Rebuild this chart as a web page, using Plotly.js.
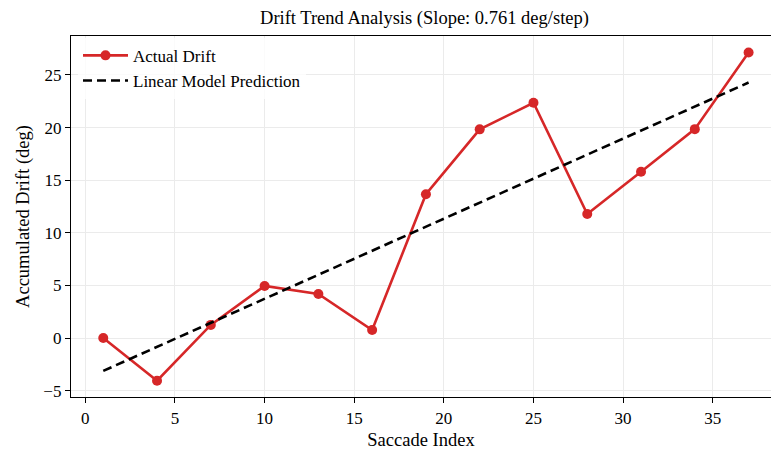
<!DOCTYPE html>
<html>
<head>
<meta charset="utf-8">
<script src="https://cdn.plot.ly/plotly-3.0.1.min.js"></script>
<style>
  html, body { margin: 0; padding: 0; background: #fff; overflow: hidden; }
  #chart { width: 771px; height: 450px; }
</style>
</head>
<body>
<div id="chart"></div>
<script>
// Saccade sample indices and the accumulated drift measured at each
const saccadeIndex = [1, 4, 7, 10, 13, 16, 19, 22, 25, 28, 31, 34, 37];
const accumulatedDrift = [0.0, -4.05, 1.25, 4.95, 4.19, 0.77, 13.66, 19.83, 22.36, 11.79, 15.8, 19.85, 27.14];

// Fitted drift slope (deg per step)
const slope = 0.761;

// Linear model: intercept chosen so the line passes through the data centroid
const meanX = saccadeIndex.reduce((a, b) => a + b, 0) / saccadeIndex.length;
const meanY = accumulatedDrift.reduce((a, b) => a + b, 0) / accumulatedDrift.length;
const intercept = meanY - slope * meanX;
const predicted = saccadeIndex.map(x => intercept + slope * x);

const serif = 'Liberation Serif, Times New Roman, serif';

const traces = [
  {
    x: saccadeIndex,
    y: accumulatedDrift,
    name: 'Actual Drift',
    type: 'scatter',
    mode: 'lines+markers',
    line: { color: '#d62728', width: 2.6 },
    marker: { color: '#d62728', size: 10 }
  },
  {
    x: saccadeIndex,
    y: predicted,
    name: 'Linear Model Prediction',
    type: 'scatter',
    mode: 'lines',
    line: { color: '#000000', width: 2.6, dash: '9px,5px' }
  }
];

const layout = {
  width: 771,
  height: 450,
  margin: { l: 70.5, r: 0, t: 36, b: 53 },
  paper_bgcolor: '#ffffff',
  plot_bgcolor: '#ffffff',
  font: { family: serif, size: 17, color: '#000' },
  title: {
    text: 'Drift Trend Analysis (Slope: 0.761 deg/step)',
    font: { family: serif, size: 18.5, color: '#000' },
    xref: 'paper', x: 0.505, xanchor: 'center',
    yref: 'container', y: 0.96, yanchor: 'middle'
  },
  xaxis: {
    range: [-0.8, 38.25],
    tick0: 0, dtick: 5,
    ticks: 'outside', ticklen: 5, tickwidth: 1, tickcolor: '#000',
    showline: true, linecolor: '#000', linewidth: 1.2, mirror: true,
    showgrid: true, gridcolor: '#ebebeb', gridwidth: 1,
    zeroline: false,
    tickfont: { family: serif, size: 17 },
    title: { text: 'Saccade Index', font: { family: serif, size: 18.5 }, standoff: 10 }
  },
  yaxis: {
    range: [-5.6, 28.7],
    tick0: 0, dtick: 5,
    ticks: 'outside', ticklen: 5, tickwidth: 1, tickcolor: '#000',
    showline: true, linecolor: '#000', linewidth: 1.2, mirror: false,
    showgrid: true, gridcolor: '#ebebeb', gridwidth: 1,
    zeroline: false,
    tickfont: { family: serif, size: 17 },
    title: { text: 'Accumulated Drift (deg)', font: { family: serif, size: 18.5 }, standoff: 8 }
  },
  legend: {
    x: 0.01, y: 0.995, xanchor: 'left', yanchor: 'top',
    bgcolor: 'rgba(255,255,255,0.8)',
    borderwidth: 0,
    font: { family: serif, size: 17 },
    itemwidth: 45,
    tracegroupgap: 0
  },
  showlegend: true
};

Plotly.newPlot('chart', traces, layout, { displayModeBar: false, staticPlot: true });
</script>
</body>
</html>
